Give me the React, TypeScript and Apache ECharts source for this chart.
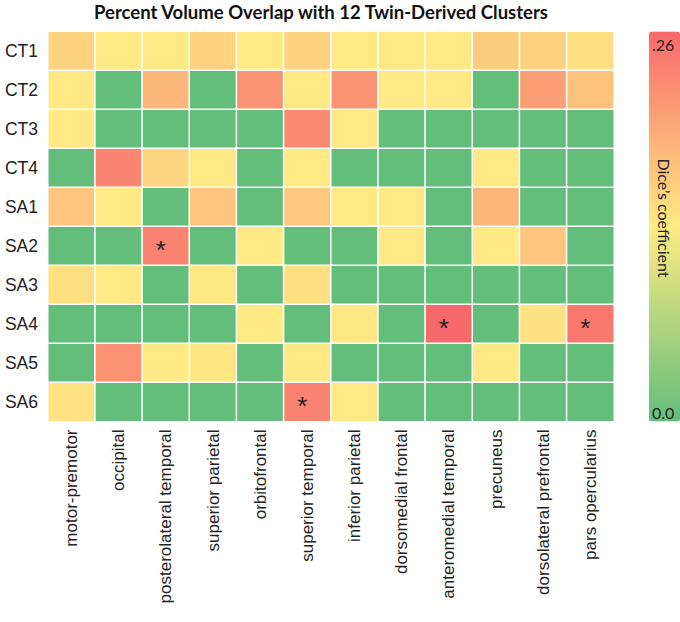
import React, { useEffect, useRef } from 'react';
import * as echarts from 'echarts';

const regions = [
  'motor-premotor',
  'occipital',
  'posterolateral temporal',
  'superior parietal',
  'orbitofrontal',
  'superior temporal',
  'inferior parietal',
  'dorsomedial frontal',
  'anteromedial temporal',
  'precuneus',
  'dorsolateral prefrontal',
  'pars opercularius',
];

const clusters = ['CT1', 'CT2', 'CT3', 'CT4', 'SA1', 'SA2', 'SA3', 'SA4', 'SA5', 'SA6'];

const rowCT1 = [0.155, 0.132, 0.132, 0.155, 0.132, 0.155, 0.132, 0.132, 0.132, 0.16, 0.155, 0.142];
const rowCT2 = [0.132, 0, 0.182, 0, 0.218, 0.132, 0.218, 0.132, 0.132, 0, 0.208, 0.17];
const rowCT3 = [0.132, 0, 0, 0, 0, 0.226, 0.132, 0, 0, 0, 0, 0];
const rowCT4 = [0, 0.232, 0.152, 0.132, 0, 0.132, 0, 0, 0, 0.132, 0, 0];
const rowSA1 = [0.168, 0.132, 0, 0.168, 0, 0.165, 0.132, 0.132, 0, 0.185, 0, 0];
const rowSA2 = [0, 0, 0.234, 0, 0.132, 0, 0, 0.132, 0, 0.132, 0.168, 0];
const rowSA3 = [0.142, 0.132, 0, 0.134, 0, 0.142, 0, 0, 0, 0, 0, 0];
const rowSA4 = [0, 0, 0, 0, 0.132, 0, 0.134, 0, 0.26, 0, 0.14, 0.245];
const rowSA5 = [0, 0.22, 0.132, 0.135, 0, 0.132, 0, 0, 0, 0.132, 0, 0];
const rowSA6 = [0.138, 0, 0, 0, 0, 0.234, 0.132, 0, 0, 0, 0, 0];

const values = [rowCT1, rowCT2, rowCT3, rowCT4, rowSA1, rowSA2, rowSA3, rowSA4, rowSA5, rowSA6];

// [row, column] of cells marked with an asterisk
const significant = [
  [5, 2],
  [7, 8],
  [7, 11],
  [9, 5],
];

const scaleMin = 0;
const scaleMax = 0.26;
const scaleTopLabel = '.26';
const scaleBottomLabel = '0.0';

export default function App() {
  const ref = useRef<HTMLDivElement>(null);

  useEffect(() => {
    if (!ref.current) return;
    const chart = echarts.init(ref.current, null, { renderer: 'svg' });

    const data: any[] = [];
    values.forEach((row, r) => {
      row.forEach((v, c) => {
        const star = significant.some(([sr, sc]) => sr === r && sc === c) ? 1 : 0;
        data.push([c, r, v, star]);
      });
    });

    const gridLeft = 48;
    const gridTop = 31.5;
    const gridW = 566;
    const gridH = 390;

    chart.setOption({
      animation: false,
      backgroundColor: '#ffffff',
      grid: { left: gridLeft, top: gridTop, width: gridW, height: gridH },
      xAxis: {
        type: 'category',
        data: regions,
        position: 'bottom',
        axisLine: { show: false },
        axisTick: { show: false },
        splitArea: { show: false },
        axisLabel: {
          rotate: 90,
          interval: 0,
          margin: 8,
          fontSize: 17,
          color: '#222',
          fontFamily: 'Liberation Sans, Arial, sans-serif',
        },
      },
      yAxis: {
        type: 'category',
        data: clusters,
        inverse: true,
        axisLine: { show: false },
        axisTick: { show: false },
        splitArea: { show: false },
        axisLabel: {
          margin: 10,
          fontSize: 17.5,
          color: '#222',
          fontFamily: 'Liberation Sans, Arial, sans-serif',
        },
      },
      visualMap: {
        type: 'continuous',
        dimension: 2,
        min: scaleMin,
        max: scaleMax,
        calculable: false,
        orient: 'vertical',
        left: 649,
        top: 31.5,
        padding: 0,
        itemWidth: 31,
        itemHeight: 390,
        inRange: { color: ['#63BE7B', '#FFEB84', '#F8696B'] },
      },
      graphic: {
        elements: [
          {
            type: 'text',
            x: 321,
            y: 12,
            z: 100,
            style: {
              text: 'Percent Volume Overlap with 12 Twin-Derived Clusters',
              fontFamily: 'Lato, Open Sans, sans-serif',
              fontWeight: 'bold',
              fontSize: 18.5,
              fill: '#111',
              align: 'center',
              verticalAlign: 'middle',
            },
          },
          {
            type: 'text',
            x: 652,
            y: 44,
            z: 100,
            style: {
              text: scaleTopLabel,
              fontFamily: 'Lato, Open Sans, sans-serif',
              fontSize: 16,
              fill: '#222',
              align: 'left',
              verticalAlign: 'middle',
            },
          },
          {
            type: 'text',
            x: 652,
            y: 412,
            z: 100,
            style: {
              text: scaleBottomLabel,
              fontFamily: 'Lato, Open Sans, sans-serif',
              fontSize: 16,
              fill: '#222',
              align: 'left',
              verticalAlign: 'middle',
            },
          },
          {
            type: 'text',
            x: 664,
            y: 218,
            z: 100,
            rotation: -Math.PI / 2,
            style: {
              text: 'Dice\u2019s coefficient',
              fontFamily: 'Lato, Open Sans, sans-serif',
              fontSize: 16,
              fill: '#222',
              align: 'center',
              verticalAlign: 'middle',
            },
          },
        ],
      },
      series: [
        {
          type: 'heatmap',
          data,
          encode: { x: 0, y: 1, value: 2 },
          itemStyle: { borderColor: '#ffffff', borderWidth: 1.5 },
          emphasis: { disabled: true },
          label: {
            show: true,
            formatter: (p: any) => (p.data[3] ? '*' : ''),
            fontSize: 26,
            color: '#222',
            fontFamily: 'Liberation Sans, Arial, sans-serif',
            offset: [-5, 4],
          },
        },
      ],
    });

    return () => {
      chart.dispose();
    };
  }, []);

  return (
    <div
      ref={ref}
      style={{ position: 'fixed', left: 0, top: 0, width: 680, height: 622 }}
    />
  );
}
